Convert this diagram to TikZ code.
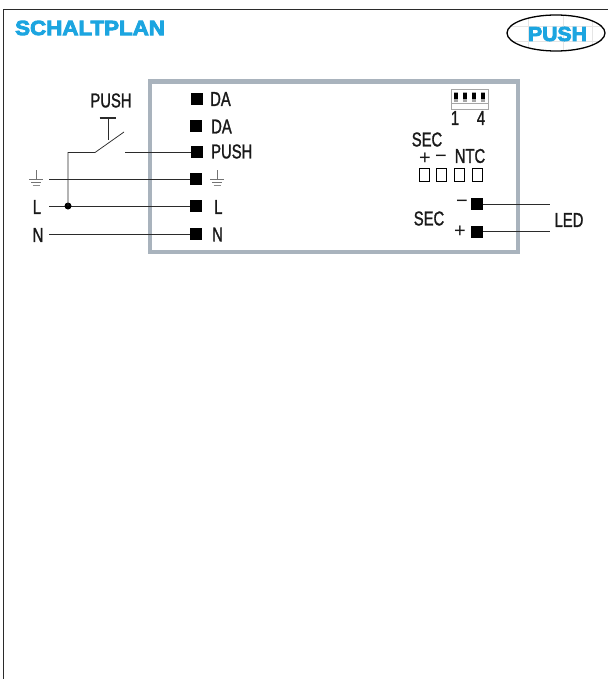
\documentclass[tikz,border=0pt]{standalone}
\usepackage{fontspec}
\usetikzlibrary{shapes.geometric}
\setmainfont{Liberation Sans}
\newfontfamily\cond[FakeStretch=0.74]{Liberation Sans}
\newfontfamily\wide[FakeStretch=1.06]{Liberation Sans}
\newfontfamily\widetitle[FakeStretch=1.09]{Liberation Sans}
\definecolor{brandblue}{HTML}{1CA5E0}
\definecolor{framegray}{HTML}{A9B3BD}
\definecolor{inkdark}{HTML}{2B2B2B}
\newcommand{\heavy}[2]{\special{pdf:code q 2 Tr #1 w}#2\special{pdf:code Q}}
\tikzset{
  term/.style={fill=black,minimum size=12pt,inner sep=0pt,outer sep=0pt},
  hole/.style={draw=black,line width=1pt,fill=white,minimum width=10pt,minimum height=12pt,inner sep=0pt},
  wire/.style={line width=0.75pt,draw=inkdark},
  medium/.style={execute at begin node={\special{pdf:code q 2 Tr 0.25 w}},execute at end node={\special{pdf:code Q}}},
  lab/.style={font=\cond\fontsize{20}{21}\selectfont,text=black!90,inner sep=0pt,medium},
  labl/.style={lab,anchor=west},
  sign/.style={font=\fontsize{20}{21}\selectfont,text=black!90,inner sep=0pt},
  brand/.style={font=\wide\bfseries\fontsize{20}{21}\selectfont,text=brandblue,inner sep=0pt},
  brandtitle/.style={font=\widetitle\bfseries\fontsize{20.5}{21}\selectfont,text=brandblue,inner sep=0pt},
}
\newcommand{\gndsym}[2]{%
  \draw[line width=0.6pt,black!55] (#1,#2-9)--(#1,#2);
  \draw[line width=0.6pt,black!55] (#1-7,#2)--(#1+7,#2);
  \draw[line width=0.6pt,black!55] (#1-5,#2+3.5)--(#1+5,#2+3.5);
  \draw[line width=0.6pt,black!45] (#1-3.5,#2+6)--(#1+3.5,#2+6);}
\begin{document}
\begin{tikzpicture}[x=1pt,y=-1pt]
\useasboundingbox (0,0) rectangle (608,679);
% page rule
\coordinate (pbl) at (3.5,679); \coordinate (ptl) at (3.5,9.5); \coordinate (ptr) at (608,9.5);
\draw[line width=0.9pt,inkdark] (pbl)--(ptl)--(ptr);
% header
\node[brandtitle,anchor=west] (title) at (15,28) {\heavy{0.9}{SCHALTPLAN}};
\begin{scope}
\clip (556,33) ellipse [x radius=49,y radius=18];
\draw[black!10,line width=0.5pt] (505,26)--(607,26) (505,41)--(607,41) (528,15)--(528,51) (563,15)--(563,51) (592,15)--(592,51);
\end{scope}
\node[draw=black,line width=1.3pt,ellipse,minimum width=98pt,minimum height=36pt,inner sep=0pt] (pushoval) at (556,33) {};
\node[brand] (pushtxt) at (557.5,34) {\heavy{0.9}{PUSH}};
% housing
\draw[framegray,line width=4.2pt] (150,81.5) rectangle (518,252);
% left terminals
\node[term] (t1) at (197,99) {};
\node[term] (t2) at (196,126) {};
\node[term] (t3) at (197,152) {};
\node[term] (t4) at (196,178.5) {};
\node[term] (t5) at (196,206) {};
\node[term] (t6) at (196,233.5) {};
\node[labl] (l1) at (210,99) {DA};
\node[labl] (l2) at (211,126.5) {DA};
\node[labl] (l3) at (211,151.5) {PUSH};
\node[labl] (l5) at (214,207) {L};
\node[labl] (l6) at (212,234.5) {N};
\gndsym{217}{179}
% left labels
\node[lab] (ext1) at (111,100.5) {PUSH};
\node[lab] (ext2) at (37,207) {L};
\node[lab] (ext3) at (38,235) {N};
\gndsym{36}{179}
% wires
\coordinate (gs) at (49,179); \coordinate (ls) at (49,206); \coordinate (ns) at (49,234);
\coordinate (ps) at (125,152);
\draw[wire] (ps)--(ps-|t3.west);
\draw[wire] (gs)--(gs-|t4.west);
\draw[wire,line width=1pt] (ls)--(ls-|t5.west);
\draw[wire,line width=1pt] (ns)--(ns-|t6.west);
% switch
\coordinate (jn) at (68,206); \coordinate (sa) at (95,152.5); \coordinate (sb) at (124,132);
\node[fill=black,circle,minimum size=7pt,inner sep=0pt] (dot) at (jn) {};
\draw[wire] (dot.center)--(68,152.5)--(sa)--(sb);
\coordinate (tt) at (108.5,118); \coordinate (tb) at (108.5,140);
\draw[line width=1.2pt,inkdark] (99.5,118)--(115.5,118) (tt)--(tb);
% DIP switch
\draw[black!35,line width=0.6pt] (451,89.5) rectangle (488,109);
\draw[black!35,line width=0.6pt] (451,103)--(488,103);
\foreach \x in {456,465,474,483}{
  \fill[black!35] (\x-2,92) rectangle (\x+2,102);
  \fill[black] (\x-2,93) rectangle (\x+2,99);
}
\node[lab] (d1) at (455,118) {1};
\node[lab] (d4) at (481,118) {4};
% SEC / NTC
\node[lab] (sec1) at (427,139.5) {SEC};
\node[sign] (plus1) at (425,159) {+};
\node[sign] (minus1) at (441,159) {−};
\node[lab] (ntc) at (470,156) {NTC};
\node[hole] (h1) at (424.5,175) {};
\node[hole] (h2) at (441,175) {};
\node[hole] (h3) at (459,175) {};
\node[hole] (h4) at (477,175) {};
% right terminals
\node[term] (r1) at (477,204) {};
\node[term] (r2) at (477,232) {};
\node[sign] (rm) at (462,204) {−};
\node[sign] (rp) at (460,232) {+};
\node[lab] (sec2) at (429,218.5) {SEC};
\node[lab] (led) at (569,220) {LED};
\coordinate (e1) at (550,204); \coordinate (e2) at (550,231.5);
\draw[wire] (r1.east)--(e1);
\draw[wire] (r2.east|-e2)--(e2);
\end{tikzpicture}
\end{document}
